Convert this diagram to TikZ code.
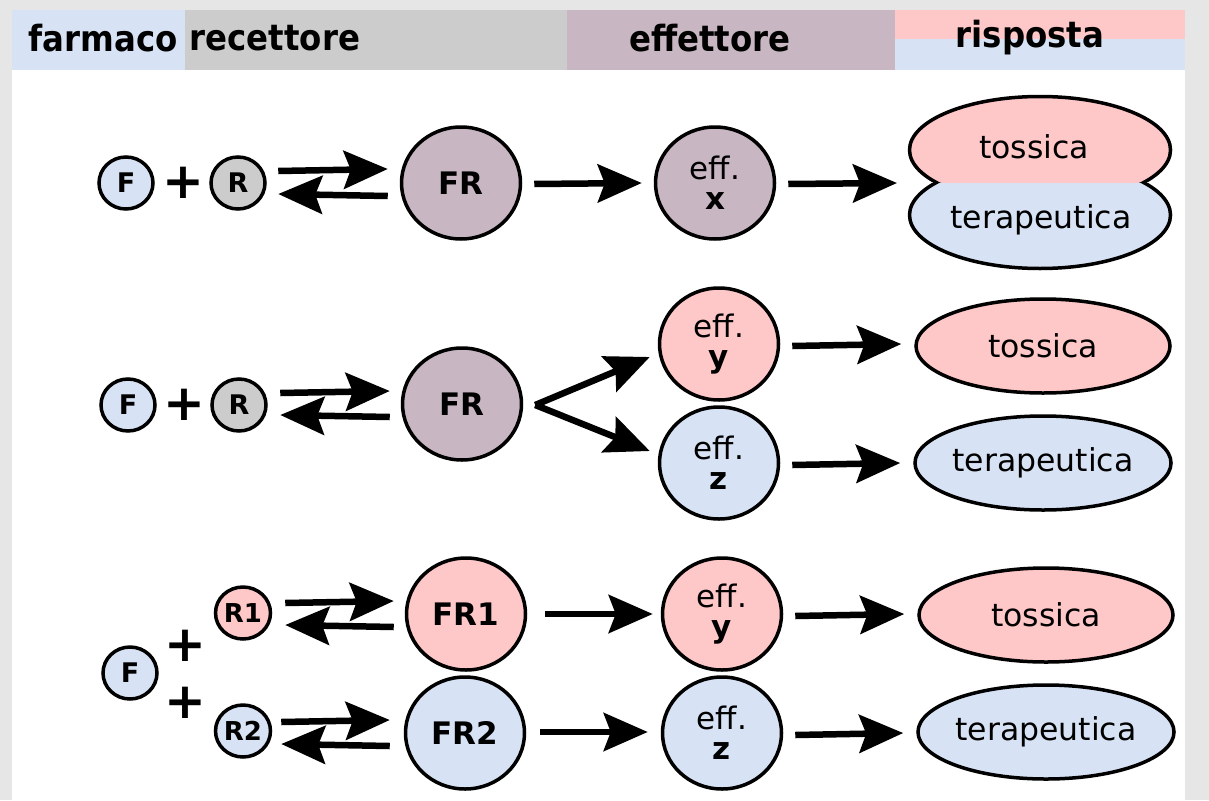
\documentclass[tikz,border=0pt]{standalone}
\usepackage{fontspec}
\setmainfont{DejaVu Sans}
\newfontfamily\condfont{DejaVu Sans Condensed}
\usetikzlibrary{arrows.meta,shapes.geometric}
\definecolor{cblue}{HTML}{D7E3F4}
\definecolor{cpink}{HTML}{FFC8C8}
\definecolor{cgray}{HTML}{CCCCCC}
\definecolor{cmauve}{HTML}{C8B7C2}
\definecolor{cbg}{HTML}{E6E6E6}
\tikzset{
 ball/.style={ellipse, draw=black, line width=3.5pt, inner sep=0pt, font=\fontsize{27}{30}\selectfont\bfseries},
 smallball/.style={ball, minimum width=54pt, minimum height=52pt},
 bigball/.style={ball, minimum width=119pt, minimum height=112pt, font=\fontsize{31}{36}\selectfont\bfseries},
 effball/.style={bigball, font=\fontsize{31}{34}\selectfont, align=center},
 resp/.style={ellipse, draw=black, line width=3.5pt, inner sep=0pt, minimum width=254pt, minimum height=94pt, font=\fontsize{31.5}{36}\selectfont},
 arr/.style={line width=6.5pt, -{Stealth[length=44pt,width=38pt,inset=7pt]}},
 plus/.style={font=\fontsize{50}{50}\selectfont\bfseries, inner sep=0pt},
 hdr/.style={font=\condfont\bfseries\fontsize{36}{40}\selectfont, inner sep=0pt, anchor=base},
 txt/.style={font=\fontsize{31.5}{36}\selectfont, inner sep=0pt}
}
\begin{document}
\begin{tikzpicture}[x=1pt,y=-1pt]
\useasboundingbox (0,0) rectangle (1209,800);
% background
\fill[cbg] (0,0) rectangle (1209,800);
\fill[white] (12,10) rectangle (1185,800);
% header
\fill[cblue] (12,10) rectangle (185,70);
\fill[cgray] (185,10) rectangle (567,70);
\fill[cmauve] (567,10) rectangle (895,70);
\fill[cpink] (895,10) rectangle (1185,39);
\fill[cblue] (895,39) rectangle (1185,70);
\node[hdr] (h1) at (103,52) {farmaco};
\node[hdr] (h2) at (275,51) {recettore};
\node[hdr] (h3) at (710,52) {effettore};
\node[hdr] (h4) at (1030,48) {risposta};

% ---------- row 1 ----------
\node[smallball, fill=cblue] (F1) at (126,183) {F};
\node[plus] (p1) at (183,183) {+};
\node[smallball, fill=cgray] (R1) at (238,183) {R};
\node[bigball, fill=cmauve] (FR1) at (461,183) {FR};
\node[effball, fill=cmauve] (E1) at (715,183) {eff.\\[-4pt]\textbf{x}};
% combined response
\begin{scope}
 \clip (895,85) rectangle (1190,183);
 \fill[cpink] (1040,150) ellipse [x radius=130.5pt, y radius=53.5pt];
 \draw[line width=3.5pt] (1040,150) ellipse [x radius=130.5pt, y radius=53.5pt];
\end{scope}
\begin{scope}
 \clip (895,183) rectangle (1190,280);
 \fill[cblue] (1040,215) ellipse [x radius=130.5pt, y radius=53.5pt];
 \draw[line width=3.5pt] (1040,215) ellipse [x radius=130.5pt, y radius=53.5pt];
\end{scope}
\node[txt] (T1) at (1034,147) {tossica};
\node[txt] (Q1) at (1041,220) {terapeutica};
\coordinate (S1) at (897,183);

\draw[arr] ([shift={(11.5,-12)}]R1.east) -- ([shift={(-12,-14)}]FR1.west);
\draw[arr] ([shift={(-12,13)}]FR1.west) -- ([shift={(11.5,11)}]R1.east);
\draw[arr] ([shift={(12,1)}]FR1.east) -- ([shift={(-12,0)}]E1.west);
\draw[arr] ([shift={(12,1)}]E1.east) -- (S1);

% ---------- row 2 ----------
\node[smallball, fill=cblue] (F2) at (128,405) {F};
\node[plus] (p2) at (184,405) {+};
\node[smallball, fill=cgray] (R2) at (239,405) {R};
\node[bigball, fill=cmauve] (FR2) at (462,404) {FR};
\node[effball, fill=cpink] (Ey2) at (719,344) {eff.\\[-4pt]\textbf{y}};
\node[effball, fill=cblue] (Ez2) at (719,463) {eff.\\[-4pt]\textbf{z}};
\node[resp, fill=cpink] (T2) at (1043,346) {tossica};
\node[resp, fill=cblue] (Q2) at (1043,463) {terapeutica};

\draw[arr] ([shift={(12.5,-12)}]R2.east) -- ([shift={(-11,-13)}]FR2.west);
\draw[arr] ([shift={(-11,13)}]FR2.west) -- ([shift={(12.5,10)}]R2.east);
\draw[arr] ([shift={(12,1)}]FR2.east) -- ([shift={(-8,13)}]Ey2.west);
\draw[arr] ([shift={(12,1)}]FR2.east) -- ([shift={(-8,-12)}]Ez2.west);
\draw[arr] ([shift={(12,2)}]Ey2.east) -- ([shift={(-13,-2)}]T2.west);
\draw[arr] ([shift={(12,2)}]Ez2.east) -- ([shift={(-13,0)}]Q2.west);

% ---------- row 3 ----------
\node[smallball, fill=cblue] (F3) at (130,673) {F};
\node[plus] (p3a) at (185,646) {+};
\node[plus] (p3b) at (185,703) {+};
\node[smallball, fill=cpink, minimum width=55pt, minimum height=52pt, font=\fontsize{26}{30}\selectfont\bfseries] (R31) at (243,613) {R1};
\node[smallball, fill=cblue, minimum width=55pt, minimum height=52pt, font=\fontsize{26}{30}\selectfont\bfseries] (R32) at (243,731) {R2};
\node[bigball, fill=cpink] (FR31) at (466,614) {FR1};
\node[bigball, fill=cblue] (FR32) at (465,733) {FR2};
\node[effball, fill=cpink] (Ey3) at (722,614) {eff.\\[-4pt]\textbf{y}};
\node[effball, fill=cblue] (Ez3) at (722,733) {eff.\\[-4pt]\textbf{z}};
\node[resp, fill=cpink] (T3) at (1046,615) {tossica};
\node[resp, fill=cblue] (Q3) at (1046,732) {terapeutica};

\draw[arr] ([shift={(13,-10)}]R31.east) -- ([shift={(-11,-13)}]FR31.west);
\draw[arr] ([shift={(-11,13)}]FR31.west) -- ([shift={(13,12)}]R31.east);
\draw[arr] ([shift={(9,-9)}]R32.east) -- ([shift={(-14,-13)}]FR32.west);
\draw[arr] ([shift={(-14,13)}]FR32.west) -- ([shift={(9,13)}]R32.east);
\draw[arr] ([shift={(18,0)}]FR31.east) -- ([shift={(-8,0)}]Ey3.west);
\draw[arr] ([shift={(14,-1)}]FR32.east) -- ([shift={(-13,-1)}]Ez3.west);
\draw[arr] ([shift={(12,2)}]Ey3.east) -- ([shift={(-13,-1)}]T3.west);
\draw[arr] ([shift={(12,2)}]Ez3.east) -- ([shift={(-13,1)}]Q3.west);
\end{tikzpicture}
\end{document}
